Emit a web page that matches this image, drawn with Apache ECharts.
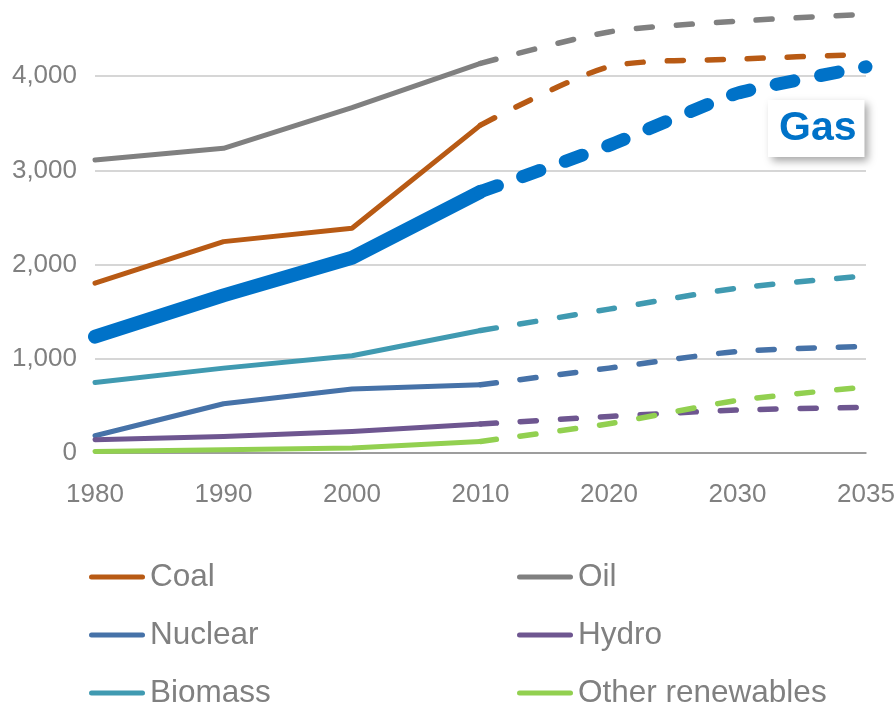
<!DOCTYPE html>
<html>
<head>
<meta charset="utf-8">
<script src="https://cdn.jsdelivr.net/npm/echarts@6/dist/echarts.min.js"></script>
<style>
html,body{margin:0;padding:0;background:#fff;}
#chart{width:896px;height:707px;}
</style>
</head>
<body>
<div id="chart"></div>
<script>
const years = ['1980','1990','2000','2010','2020','2030','2035'];
const coal    = [1803, 2244, 2386, 3481, 4100, 4181, 4231];
const oil     = [3110, 3235, 3666, 4136, 4470, 4584, 4658];
const gas     = [1235, 1673, 2072, 2774, 3266, 3820, 4100];
const nuclear = [183, 523, 679, 724, 901, 1078, 1131];
const hydro   = [141, 176, 229, 307, 388, 456, 484];
const biomass = [749, 901, 1032, 1300, 1527, 1750, 1880];
const otherRen= [17, 35, 53, 123, 311, 558, 700];
const legendLeftCol = ['Coal','Nuclear','Biomass'];
const legendRightCol = ['Oil','Hydro','Other renewables'];
const histCount = 4; // 1980..2010 historical, 2010.. projection

const colors = {
  Coal:'#B85A14', Oil:'#808080', Gas:'#0072C8', Nuclear:'#4672A8',
  Hydro:'#6E5690', Biomass:'#409AB1', 'Other renewables':'#92D050'
};

function hist(arr){ return arr.map((v,i)=> i < histCount ? v : null); }
function proj(arr){ return arr.map((v,i)=> i >= histCount-1 ? v : null); }

function pair(name, arr, w, wd, dash, sm){
  const c = colors[name];
  return [
    {name, type:'line', data:hist(arr), symbol:'none', color:c,
     lineStyle:{color:c, width:w, cap:'round', join:'round'}, z:2},
    {name, type:'line', data:proj(arr), symbol:'none', color:c, smooth:sm,
     lineStyle:{color:c, width:wd, type:dash, cap:'round', join:'round'}, z:2}
  ];
}

const series = [].concat(
  pair('Oil', oil, 5, 5.5, [16,24], 0.25),
  pair('Coal', coal, 5, 5.5, [16,24], 0.25),
  pair('Biomass', biomass, 5, 5.5, [16,24], 0.25),
  pair('Nuclear', nuclear, 5, 5.5, [16,24], 0.25),
  pair('Hydro', hydro, 5, 5.5, [16,24], 0.25),
  pair('Other renewables', otherRen, 5, 5.5, [16,24], 0.25),
  pair('Gas', gas, 14, 13, [18,27], 0.15)
);

const legendIcon = 'path://M2.5,0 H53.5 A2.5,2.5 0 0 1 53.5,5 H2.5 A2.5,2.5 0 0 1 2.5,0 Z';
const legendText = {color:'#808080', fontSize:31.5, fontFamily:'Liberation Sans, Arial, sans-serif', lineHeight:31};
const rowTops = [561, 619, 677];
const legends = [];
legendLeftCol.forEach((n,i)=> legends.push({data:[n], left:89, top:rowTops[i]}));
legendRightCol.forEach((n,i)=> legends.push({data:[n], left:517, top:rowTops[i]}));
legends.forEach(l=> Object.assign(l, {orient:'horizontal', padding:0, itemWidth:56, itemHeight:5,
  icon:legendIcon, textStyle:legendText, selectedMode:false}));

const chart = echarts.init(document.getElementById('chart'), null, {renderer:'canvas'});
chart.setOption({
  animation:false,
  backgroundColor:'#fff',
  title:{
    text:'Gas', left:768, top:100,
    backgroundColor:'#fff',
    padding:[8,8,7,11],
    shadowColor:'rgba(0,0,0,0.35)', shadowBlur:8, shadowOffsetX:4, shadowOffsetY:4,
    textStyle:{color:'#0072C8', fontSize:41, fontWeight:'bold', fontFamily:'Liberation Sans, Arial, sans-serif', lineHeight:42}
  },
  grid:{left:95, right:30, top:-18, bottom:254, containLabel:false, outerBoundsMode:'none'},
  legend:legends,
  xAxis:{
    type:'category', data:years, boundaryGap:false,
    axisLine:{show:true, lineStyle:{color:'#8a8a8a', width:1.5}},
    axisTick:{show:false},
    axisLabel:{color:'#808080', fontSize:26, margin:29, fontFamily:'Liberation Sans, Arial, sans-serif'},
    splitLine:{show:false}
  },
  yAxis:{
    type:'value', min:0, max:5000, interval:1000,
    axisLine:{show:false}, axisTick:{show:false},
    axisLabel:{color:'#808080', fontSize:26, margin:18, fontFamily:'Liberation Sans, Arial, sans-serif',
      formatter:v=> v.toLocaleString('en-US')},
    splitLine:{show:true, lineStyle:{color:'#c8c8c8', width:1.5}}
  },
  series
});
</script>
</body>
</html>
